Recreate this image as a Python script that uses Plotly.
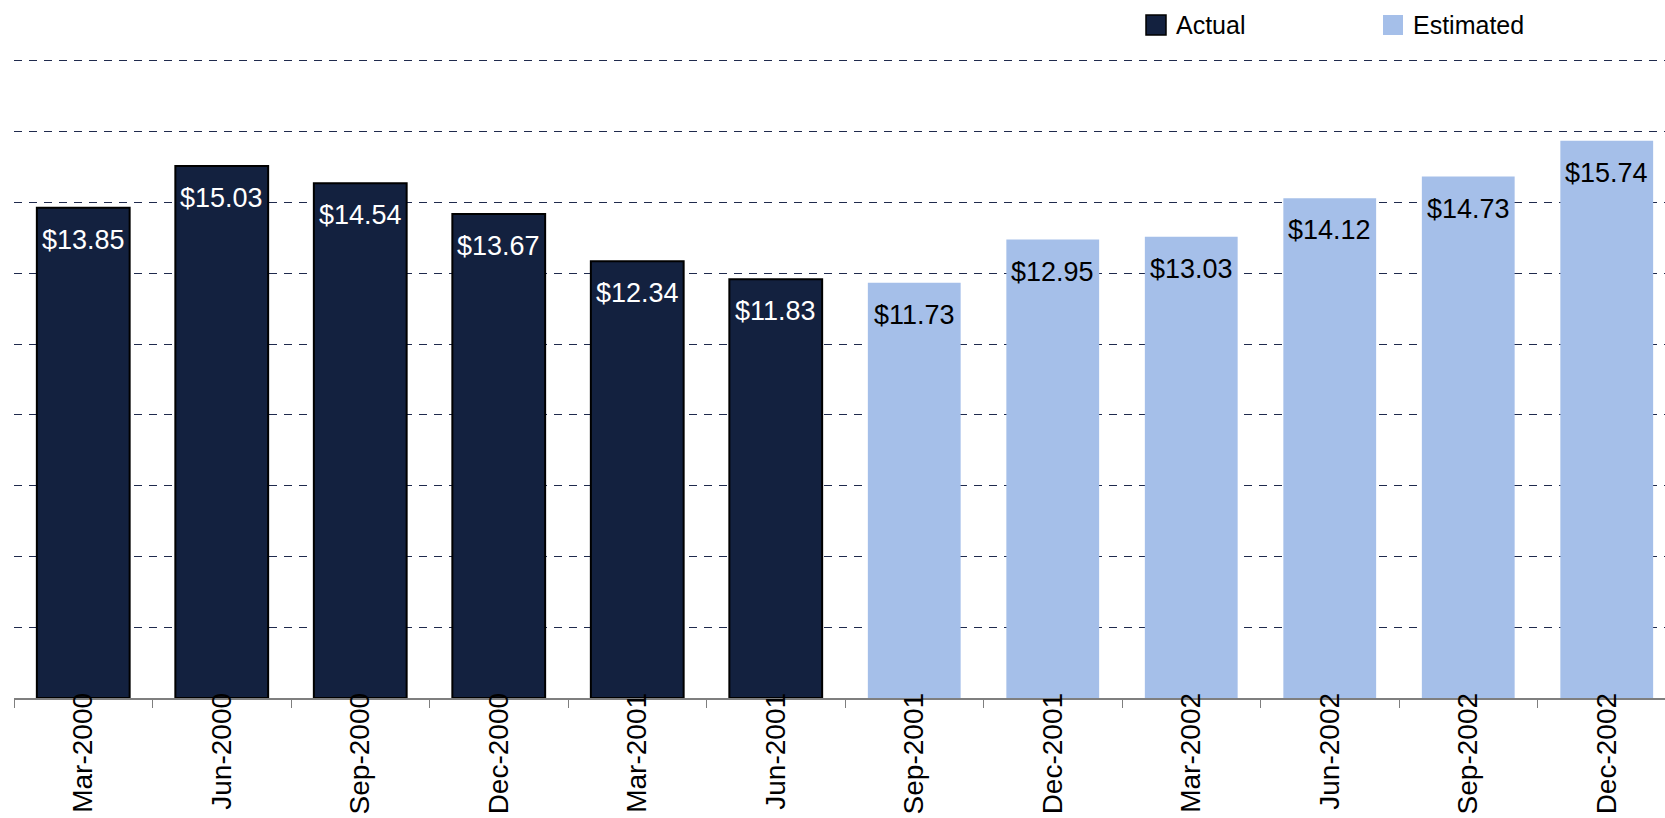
import plotly.graph_objects as go

categories = ["Mar-2000", "Jun-2000", "Sep-2000", "Dec-2000", "Mar-2001", "Jun-2001",
              "Sep-2001", "Dec-2001", "Mar-2002", "Jun-2002", "Sep-2002", "Dec-2002"]
values = [13.85, 15.03, 14.54, 13.67, 12.34, 11.83,
          11.73, 12.95, 13.03, 14.12, 14.73, 15.74]
status = ["Actual"] * 6 + ["Estimated"] * 6
series_names = ["Actual", "Estimated"]
value_labels = ["$%.2f" % v for v in values]

ACT = "#13213f"
EST = "#a5bfe9"
FONT = "Liberation Sans, Arial, sans-serif"

act_x = [c for c, s in zip(categories, status) if s == "Actual"]
act_y = [v for v, s in zip(values, status) if s == "Actual"]
est_x = [c for c, s in zip(categories, status) if s == "Estimated"]
est_y = [v for v, s in zip(values, status) if s == "Estimated"]

fig = go.Figure()
fig.add_trace(go.Bar(x=act_x, y=act_y, width=0.67, name="Actual",
                     marker=dict(color=ACT, line=dict(color="black", width=2)),
                     showlegend=False, hoverinfo="skip"))
fig.add_trace(go.Bar(x=est_x, y=est_y, width=0.67, name="Estimated",
                     marker=dict(color=EST, line=dict(width=0)),
                     showlegend=False, hoverinfo="skip"))

for c, v, s, t in zip(categories, values, status, value_labels):
    fig.add_annotation(x=c, y=v, text=t, showarrow=False, yanchor="middle", yshift=-32,
                       font=dict(family=FONT, size=27, color="white" if s == "Actual" else "black"))

# plot-area geometry (pixels)
PL, PR, PB = 14, 1665, 698
PW, PH = PR - PL, PB
PX_PER_UNIT = 35.4


def px(x):
    return (x - PL) / PW


def py(y):
    return (PB - y) / PH


# manual legend (larger swatches than plotly's clamped legend markers)
legend_left = [1146, 1383]
legend_fill = [ACT, EST]
legend_line = [dict(color="black", width=1.5), dict(width=0)]
for name, lx, fill, ln in zip(series_names, legend_left, legend_fill, legend_line):
    fig.add_shape(type="rect", xref="paper", yref="paper",
                  x0=px(lx), x1=px(lx + 20), y0=py(35), y1=py(15),
                  fillcolor=fill, line=ln, layer="above")
    fig.add_annotation(xref="paper", yref="paper", x=px(lx + 28), y=py(25), text=name,
                       showarrow=False, xanchor="left", yanchor="middle",
                       font=dict(family=FONT, size=25, color="black"))

fig.update_layout(
    width=1665, height=818,
    margin=dict(l=PL, r=1665 - PR, t=0, b=818 - PB),
    paper_bgcolor="white", plot_bgcolor="white",
    barmode="overlay",
    showlegend=False,
    xaxis=dict(type="category", categoryorder="array", categoryarray=categories,
               range=[-0.5, -0.5 + PW / 138.5],
               showline=True, linecolor="#7f7f7f", linewidth=1.5,
               ticks="outside", ticklen=8, tickcolor="#7f7f7f", tickwidth=1, tickson="boundaries",
               tickangle=-90, tickfont=dict(family=FONT, size=28, color="black"),
               ticklabelstandoff=-18, showgrid=False),
    yaxis=dict(range=[0, PH / PX_PER_UNIT], dtick=2, tick0=0, showticklabels=False,
               showgrid=True, gridcolor="#1f2a4d", gridwidth=1, griddash="8px,7px",
               zeroline=False, showline=False, ticks=""),
)

fig.write_html("out.html", config={"displayModeBar": False},
               post_script="document.body.style.margin='0';")
